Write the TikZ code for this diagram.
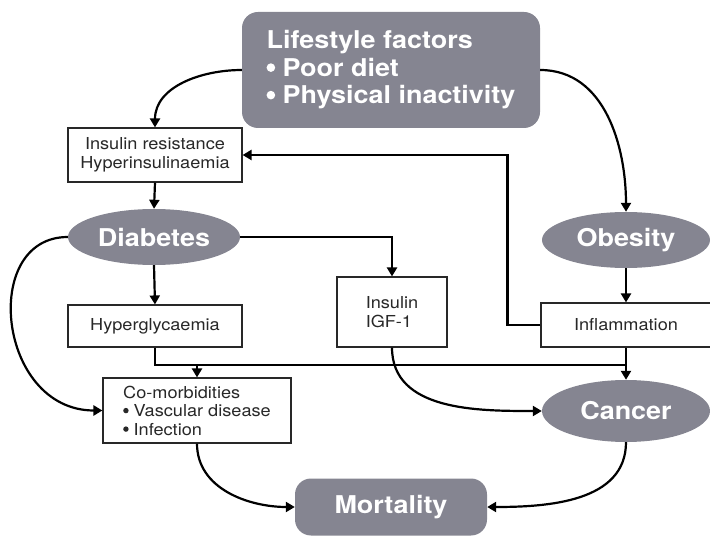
\documentclass[tikz,border=0pt]{standalone}
\usepackage{fontspec}
\setmainfont{TeX Gyre Heros}[FakeStretch=1.1]
\usetikzlibrary{arrows.meta,shapes.geometric}
\definecolor{pillgray}{RGB}{133,133,145}
\definecolor{txtgray}{RGB}{40,40,40}
\newcommand{\dotbul}[2]{\tikz[baseline=-0.36em]{\fill[#1] (0pt,0pt) circle (#2);}}
\begin{document}
\begin{tikzpicture}[x=1pt,y=1pt,
  box/.style={draw=txtgray,line width=1.1pt,fill=white,inner sep=0pt,text=txtgray,font=\fontsize{16.5}{18.5}\selectfont,align=left},
  pill/.style={fill=pillgray,rounded corners=16pt,text=white,font=\fontsize{24.5}{27.5}\selectfont\bfseries,inner sep=0pt},
  oval/.style={ellipse,fill=pillgray,text=white,font=\fontsize{24.5}{27.5}\selectfont\bfseries,inner sep=0pt},
  ln/.style={line width=2.2pt,black},
  arr/.style={ln,-{Triangle[length=9pt,width=10pt]}}]
\useasboundingbox (0,0) rectangle (710,-537);
\node[pill,minimum width=298pt,minimum height=116pt,align=left] (life) at (391,-70) {Lifestyle factors\\\dotbul{white}{4.3pt}\ Poor diet\\\dotbul{white}{4.3pt}\ Physical inactivity};
\node[box,minimum width=174pt,minimum height=54pt,align=center] (insres) at (155,-155) {Insulin resistance\\Hyperinsulinaemia};
\node[oval,minimum width=172pt,minimum height=56pt] (diab) at (154,-237) {Diabetes};
\node[oval,minimum width=168pt,minimum height=56pt] (obes) at (626,-240) {Obesity};
\node[box,minimum width=174pt,minimum height=42pt] (hyper) at (155,-326) {Hyperglycaemia};
\node[box,minimum width=110pt,minimum height=70pt] (ins) at (392,-312) {Insulin\\IGF-1};
\node[box,minimum width=170pt,minimum height=44pt] (infl) at (626,-325) {Inflammation};
\node[box,minimum width=188pt,minimum height=65pt] (comorb) at (197,-410.5) {Co-morbidities\\\dotbul{txtgray}{2.7pt}\ Vascular disease\\\dotbul{txtgray}{2.7pt}\ Infection};
\node[oval,minimum width=168pt,minimum height=62pt] (canc) at (626,-411) {Cancer};
\node[pill,minimum width=192pt,minimum height=57pt] (mort) at (391,-507) {Mortality};
\coordinate (bus) at (0,-365);
\draw[arr] (life.west) to[out=180,in=90] (insres.north);
\draw[arr] (life.east) to[out=0,in=90] (obes.north);
\draw[arr] (insres.south) -- (diab.north);
\draw[arr] (diab.east) -| (ins.north);
\draw[arr] (obes.south) -- (infl.north);
\draw[arr] (infl.west) -- ++(-33,0) |- (insres.east);
\draw[arr] (diab.south) -- (hyper.north);
\draw[ln] (hyper.south) |- (bus -| canc.north);
\draw[arr] (comorb.north |- bus) -- (comorb.north);
\draw[arr] (infl.south) -- (canc.north);
\draw[arr] (ins.south) to[out=-90,in=180] (canc.west);
\draw[arr] (diab.west) .. controls +(-88,0) and +(-105,0) .. (comorb.west);
\draw[arr] (comorb.south) to[out=-90,in=180] (mort.west);
\draw[arr] (canc.south) to[out=-90,in=0] (mort.east);
\end{tikzpicture}
\end{document}
